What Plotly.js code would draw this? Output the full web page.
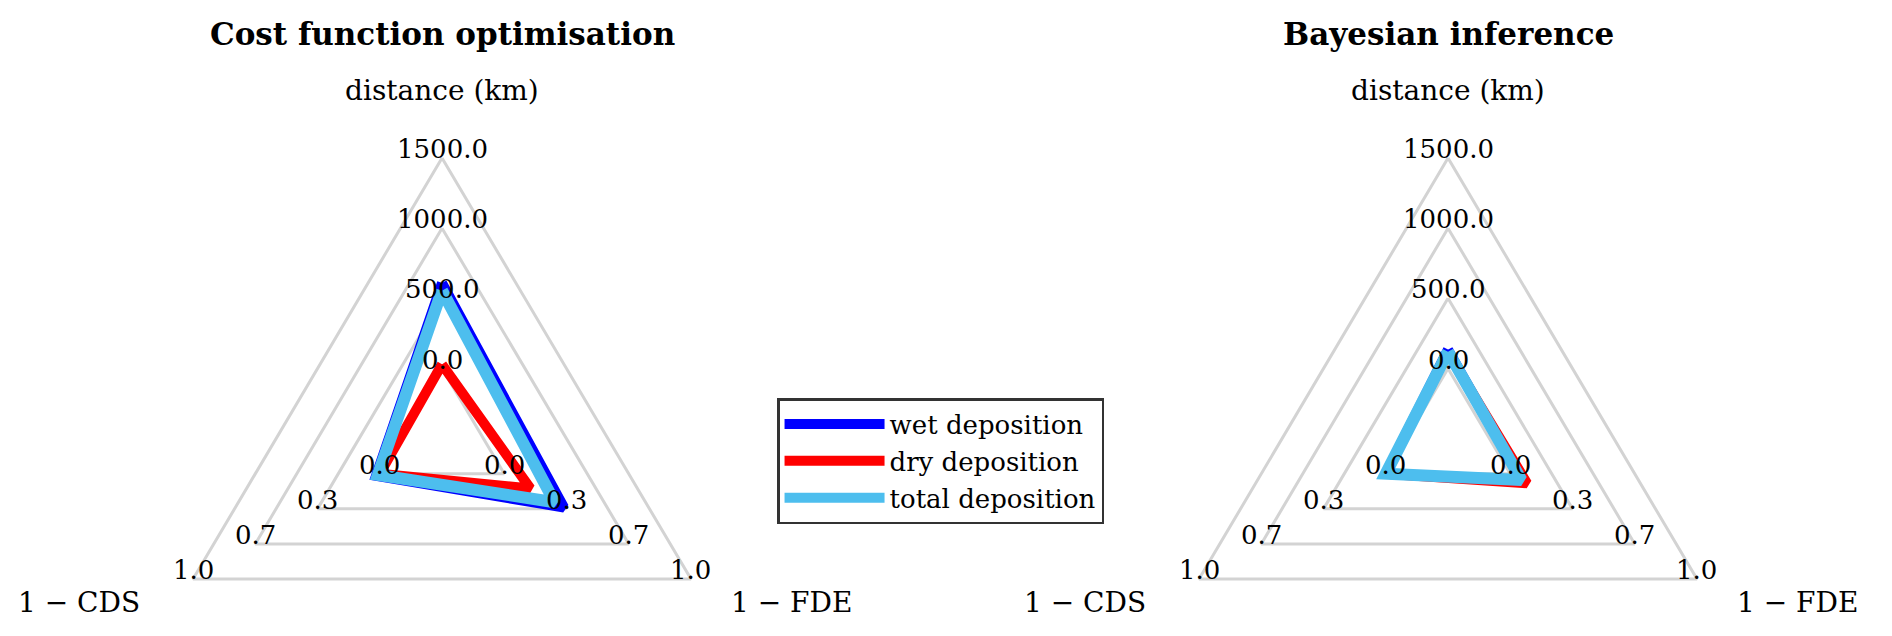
<!DOCTYPE html>
<html><head><meta charset="utf-8">
<script src="https://cdn.plot.ly/plotly-3.0.1.min.js"></script>
<style>html,body{margin:0;padding:0;background:#fff;} #chart{width:1892px;height:636px;}</style>
</head><body><div id="chart"></div>
<script>
const panelTitles = ["Cost function optimisation", "Bayesian inference"];
const axisNames = ["distance (km)", "1 \u2212 CDS", "1 \u2212 FDE"];
const axisMax = [1500, 1, 1];
const distanceTickVals = [0, 500, 1000, 1500];
const distanceTickText = ["0.0", "500.0", "1000.0", "1500.0"];
const scoreTickVals = [0, 0.3333, 0.6667, 1];
const scoreTickText = ["0.0", "0.3", "0.7", "1.0"];
const seriesNames = ["wet deposition", "dry deposition", "total deposition"];
const seriesColors = ["#0000ff", "#ff0000", "#4dbeee"];
const seriesWidths = [10, 10, 12];
// values per series: [distance (km), 1 - CDS, 1 - FDE]
const costWet = [610, 0.02, 0.32];
const costDry = [30, 0.0, 0.14];
const costTotal = [555, 0.01, 0.27];
const bayesWet = [135, 0.0, 0.06];
const bayesDry = [115, 0.0, 0.09];
const bayesTotal = [120, 0.0, 0.06];

const panels = [
  {title: panelTitles[0], series: [costWet, costDry, costTotal], xa: 'x', ya: 'y'},
  {title: panelTitles[1], series: [bayesWet, bayesDry, bayesTotal], xa: 'x2', ya: 'y2'}
];

const angles = [90, 210, 330];
const innerFrac = 0.25;
function radius(v, i) { return innerFrac + (1 - innerFrac) * v / axisMax[i]; }
function project(vals, close) {
  const x = [], y = [];
  vals.forEach((v, i) => {
    const r = radius(v, i), a = angles[i] * Math.PI / 180;
    x.push(r * Math.cos(a)); y.push(r * Math.sin(a));
  });
  if (close) { x.push(x[0]); y.push(y[0]); }
  return {x, y};
}

const traces = [];
const annotations = [];
const serif = "'DejaVu Serif', serif";

panels.forEach((p, pi) => {
  distanceTickVals.forEach((dv, j) => {
    const g = project([dv, scoreTickVals[j], scoreTickVals[j]], true);
    traces.push({type: 'scatter', mode: 'lines', x: g.x, y: g.y, xaxis: p.xa, yaxis: p.ya,
      line: {color: '#d3d3d3', width: 3}, hoverinfo: 'skip', showlegend: false});
  });
  p.series.forEach((vals, si) => {
    const d = project(vals, true);
    traces.push({type: 'scatter', mode: 'lines', name: seriesNames[si], x: d.x, y: d.y,
      xaxis: p.xa, yaxis: p.ya, line: {color: seriesColors[si], width: seriesWidths[si]},
      showlegend: pi === 0, legendrank: si + 1});
  });
  axisNames.forEach((nm, ai) => {
    const tv = ai === 0 ? distanceTickVals : scoreTickVals;
    const tt = ai === 0 ? distanceTickText : scoreTickText;
    tv.forEach((v, j) => {
      const vals = [0, 0, 0]; vals[ai] = v;
      const pt = project(vals, false);
      annotations.push({xref: p.xa, yref: p.ya, x: pt.x[ai], y: pt.y[ai], text: tt[j],
        showarrow: false, yshift: 9, font: {family: serif, size: 26, color: '#000'}});
    });
  });
  const namePos = [[0, 1.24], [-1.263, -0.585], [1.217, -0.585]];
  axisNames.forEach((nm, ai) => {
    annotations.push({xref: p.xa, yref: p.ya, x: namePos[ai][0], y: namePos[ai][1], text: nm,
      showarrow: false, font: {family: serif, size: 28, color: '#000'}});
  });
  annotations.push({xref: p.xa, yref: p.ya, x: 0, y: 1.442, text: '<b>' + p.title + '</b>',
    showarrow: false, font: {family: serif, size: 31, color: '#000'}});
});

const hidden = {visible: false, showgrid: false, zeroline: false, fixedrange: true};
const layout = {
  width: 1892, height: 636,
  margin: {l: 0, r: 0, t: 0, b: 0, pad: 0},
  paper_bgcolor: '#fff', plot_bgcolor: '#fff',
  xaxis: Object.assign({domain: [0, 0.5], range: [-1.5374, 1.7530]}, hidden),
  yaxis: Object.assign({domain: [0, 1], range: [-0.7029, 1.5629]}, hidden),
  xaxis2: Object.assign({domain: [0.5, 1], range: [-1.7461, 1.5443], anchor: 'y2'}, hidden),
  yaxis2: Object.assign({domain: [0, 1], range: [-0.7029, 1.5629], anchor: 'x2'}, hidden),
  showlegend: true,
  legend: {x: 0.4107, y: 0.374, xanchor: 'left', yanchor: 'top', bordercolor: '#333',
    borderwidth: 2.5, bgcolor: '#fff', font: {family: serif, size: 26, color: '#000'},
    itemwidth: 100, tracegroupgap: 0, traceorder: 'normal'},
  annotations: annotations
};
Plotly.newPlot('chart', traces, layout, {staticPlot: true, displayModeBar: false});
</script></body></html>
